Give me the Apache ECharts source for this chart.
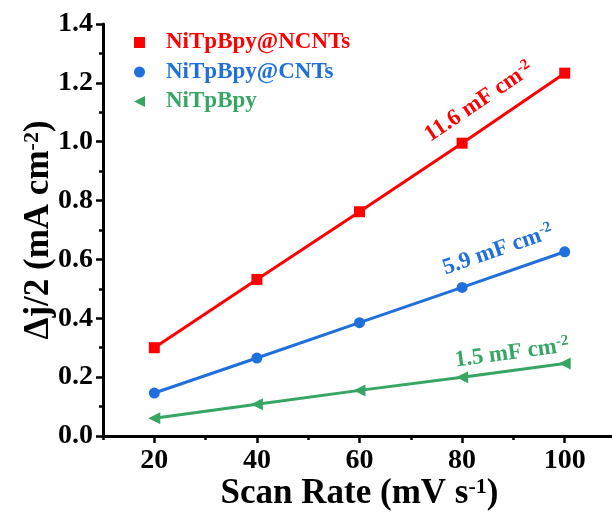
<!DOCTYPE html>
<html>
<head>
<meta charset="utf-8">
<script src="https://cdn.jsdelivr.net/npm/echarts@6/dist/echarts.min.js"></script>
<style>
  html, body { margin: 0; padding: 0; background: #fff; }
  #main { width: 612px; height: 514px; }
</style>
</head>
<body>
<div id="main"></div>
<script>
// 数据
const scanRates = [20, 40, 60, 80, 100];
const xTickLabels = [20, 40, 60, 80, 100];
const ncnts = [0.300, 0.532, 0.762, 0.995, 1.233];
const cnts = [0.146, 0.265, 0.385, 0.505, 0.626];
const bare = [0.060, 0.108, 0.155, 0.200, 0.246];
const seriesNames = ['NiTpBpy@NCNTs', 'NiTpBpy@CNTs', 'NiTpBpy'];
const colors = ['#ff0000', '#1f6fdc', '#36a665'];
const symbols = ['rect', 'circle', 'path://M10,0 L0,5 L10,10 Z'];
const slopeLabels = ['11.6 mF cm', '5.9 mF cm', '1.5 mF cm'];

const font = 'Liberation Serif, Times New Roman, serif';
const chart = echarts.init(document.getElementById('main'));

const pairs = arr => scanRates.map((x, i) => [x, arr[i]]);
const allData = [ncnts, cnts, bare];

const supStyle = { fontSize: 22, fontFamily: font, fontWeight: 'bold', color: '#000', verticalAlign: 'top', padding: [0, 0, 14, 0] };
const lblStyle = { color: '#000', fontFamily: font, fontWeight: 'bold', fontSize: 28 };

chart.setOption({
    animation: false,
    grid: { left: 103, top: 24, bottom: 78, right: -4, outerBoundsMode: 'none', containLabel: false },
    legend: {
        orient: 'vertical',
        left: 129,
        top: 26,
        itemGap: 6.5,
        itemWidth: 11,
        itemHeight: 11,
        textStyle: { fontFamily: font, fontWeight: 'bold', fontSize: 23 },
        data: seriesNames.map((n, i) => ({
            name: n,
            icon: symbols[i],
            itemStyle: { color: colors[i] },
            textStyle: { color: colors[i], padding: [0, 0, 0, 16] }
        }))
    },
    xAxis: [
        {
            type: 'value', min: 10, max: 110, interval: 20,
            axisLine: { show: true, onZero: false, lineStyle: { color: '#000', width: 3 } },
            // ticks at 10,30,...: short; minor ticks at 20,40,...: long
            axisTick: { show: true, length: 4, lineStyle: { color: '#000', width: 2.5 } },
            minorTick: { show: true, splitNumber: 2, length: 7, lineStyle: { color: '#000', width: 2.5 } },
            splitLine: { show: false },
            axisLabel: Object.assign({}, lblStyle, { margin: 11, customValues: xTickLabels }),
            name: 'Scan Rate (mV s{sup|-1})',
            nameLocation: 'middle',
            nameGap: 40,
            nameMoveOverlap: false,
            nameTextStyle: { color: '#000', fontFamily: font, fontWeight: 'bold', fontSize: 35, rich: { sup: supStyle } }
        },
        {
            type: 'value', min: 10, max: 110, position: 'top',
            axisLine: { show: true, lineStyle: { color: '#000', width: 3 } },
            axisTick: { show: false }, axisLabel: { show: false }, splitLine: { show: false }
        }
    ],
    yAxis: {
        type: 'value', min: 0, max: 1.4, interval: 0.2,
        axisLine: { show: true, onZero: false, lineStyle: { color: '#000', width: 3 } },
        axisTick: { show: true, length: 7, lineStyle: { color: '#000', width: 2.5 } },
        minorTick: { show: true, splitNumber: 2, length: 4, lineStyle: { color: '#000', width: 2.5 } },
        splitLine: { show: false },
        axisLabel: Object.assign({}, lblStyle, { margin: 10, formatter: v => v.toFixed(1) }),
        name: 'Δj/2 (mA cm{sup|-2})',
        nameLocation: 'middle',
        nameGap: 46,
        nameMoveOverlap: false,
        nameTextStyle: { color: '#000', fontFamily: font, fontWeight: 'bold', fontSize: 35, rich: { sup: supStyle } }
    },
    series: seriesNames.map((n, i) => ({
        name: n,
        type: 'line',
        data: pairs(allData[i]),
        symbol: symbols[i],
        symbolSize: i === 2 ? 12 : 11,
        lineStyle: { color: colors[i], width: 3 },
        itemStyle: { color: colors[i] },
        z: 3 - i
    }))
});

// 斜率标注
const labelSpots = [
    { x: 479, y: 102, rot: 34 },
    { x: 498, y: 250, rot: 19 },
    { x: 512, y: 353, rot: 7.6 }
];
chart.setOption({
    graphic: labelSpots.map((p, i) => ({
        type: 'text',
        x: p.x, y: p.y,
        rotation: p.rot * Math.PI / 180,
        style: {
            text: slopeLabels[i] + '{sup|-2}',
            fill: colors[i],
            font: 'bold 23px ' + font,
            align: 'center',
            verticalAlign: 'middle',
            rich: { sup: { fontSize: 15, fontWeight: 'bold', fontFamily: font, fill: colors[i], verticalAlign: 'top', padding: [0, 0, 10, 0] } }
        },
        z: 10
    }))
});
</script>
</body>
</html>
